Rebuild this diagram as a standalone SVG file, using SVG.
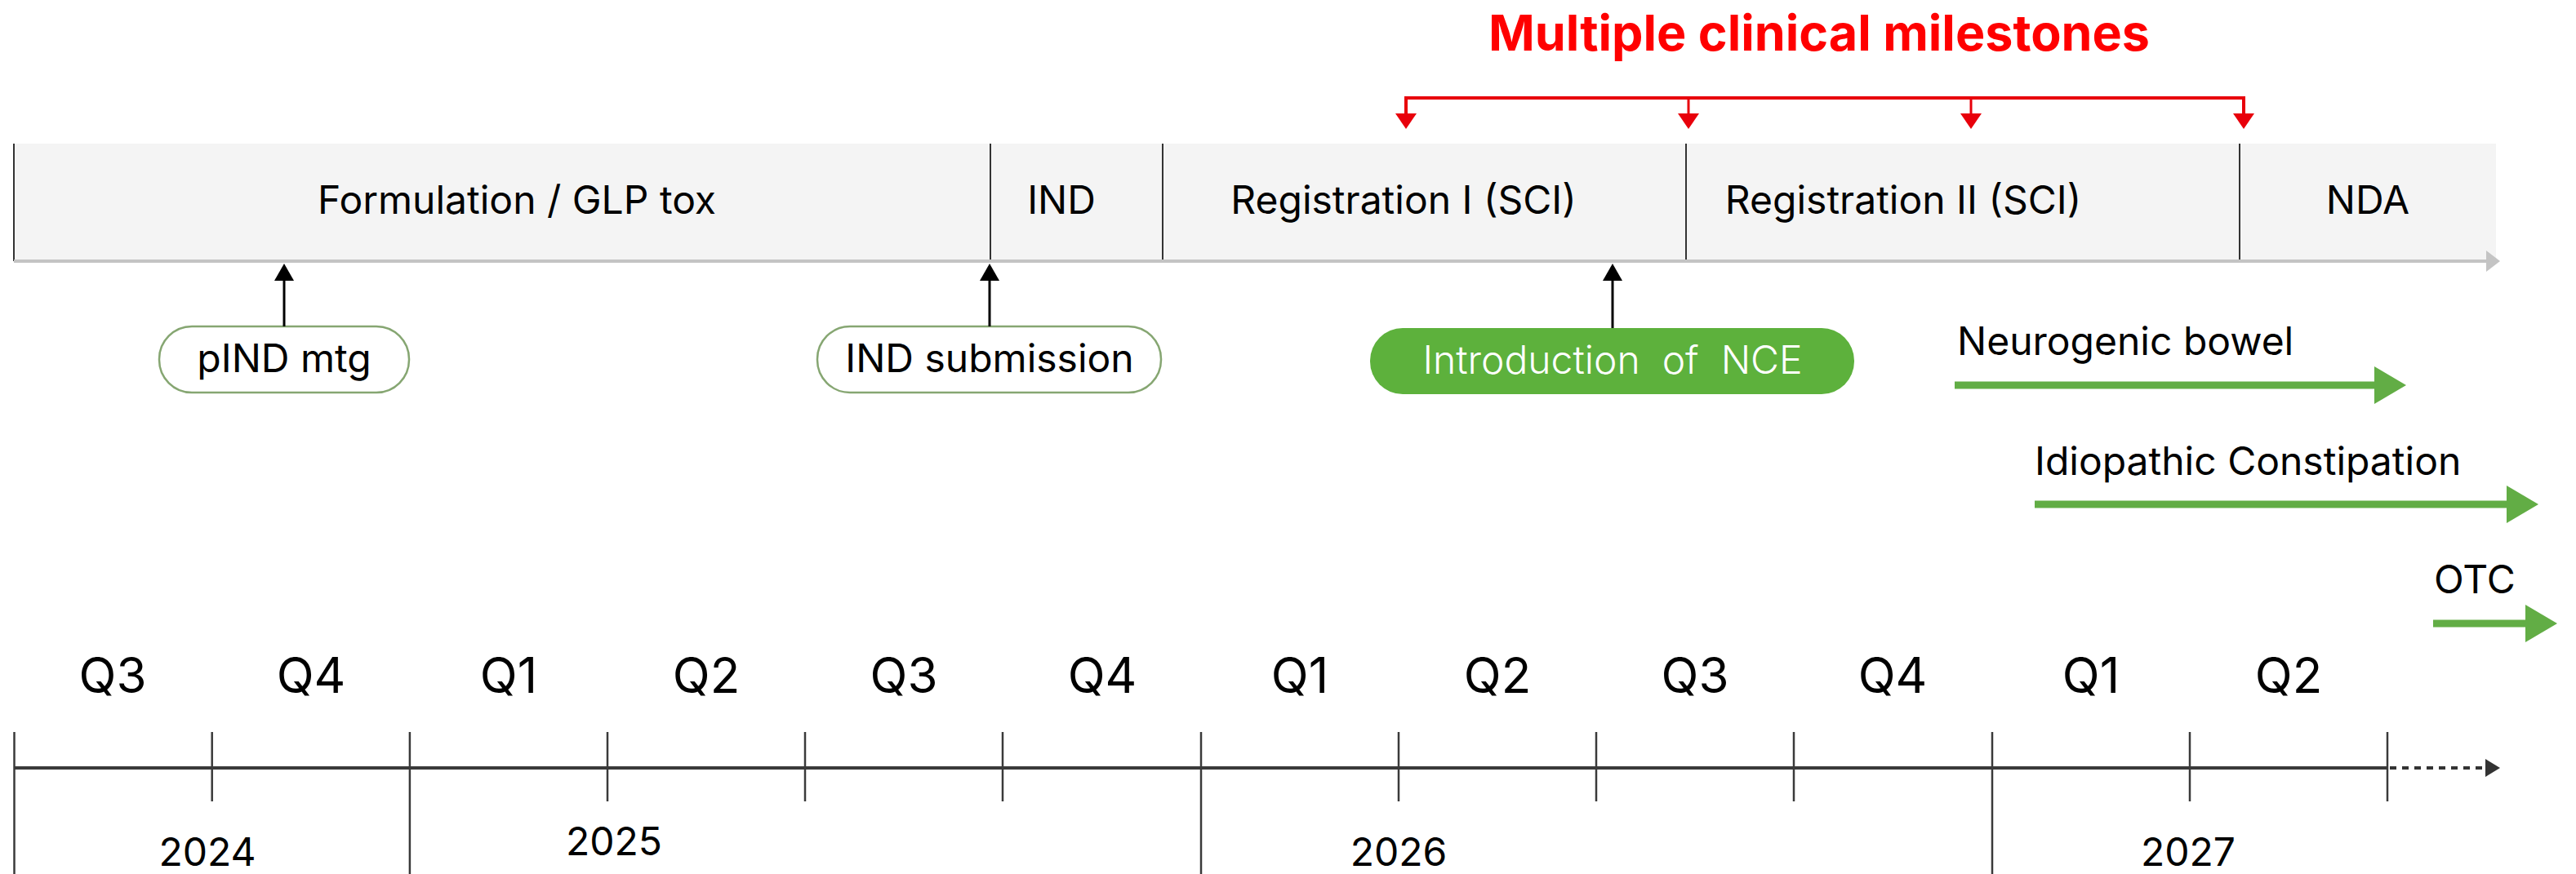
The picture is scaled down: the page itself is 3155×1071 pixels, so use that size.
<svg xmlns="http://www.w3.org/2000/svg" width="3155" height="1071" viewBox="0 0 3155 1071">
<style>
text{font-family:Inter,"Noto Sans","Liberation Sans",sans-serif;fill:#000}
.phase{font-size:48px;text-anchor:middle}
.pill{fill:#fff;stroke:#86a672;stroke-width:2.5}
.pilltxt{font-size:48px;text-anchor:middle}
.q{font-size:60px;text-anchor:middle}
.yr{font-size:48px;text-anchor:middle}
.ind{font-size:48px}
.div{stroke:#333;stroke-width:2}
.tick{stroke:#3a3a3a;stroke-width:2.5}
</style>
<defs>
<marker id="blk" markerUnits="userSpaceOnUse" markerWidth="22" markerHeight="24" refX="0" refY="12" orient="auto"><path d="M0,0 L21,12 L0,24 z" fill="#000"/></marker>
<marker id="red" markerUnits="userSpaceOnUse" markerWidth="20" markerHeight="26" refX="0" refY="13" orient="auto"><path d="M0,0 L19,13 L0,26 z" fill="#e8000b"/></marker>
<marker id="grn" markerUnits="userSpaceOnUse" markerWidth="40" markerHeight="46" refX="0" refY="23" orient="auto"><path d="M0,0 L39,23 L0,46 z" fill="#62ad45"/></marker>
<marker id="gry" markerUnits="userSpaceOnUse" markerWidth="18" markerHeight="26" refX="0" refY="13" orient="auto"><path d="M0,0 L17,13 L0,26 z" fill="#c4c4c4"/></marker>
<marker id="dk" markerUnits="userSpaceOnUse" markerWidth="19" markerHeight="22" refX="0" refY="11" orient="auto"><path d="M0,0 L18,11 L0,22 z" fill="#333"/></marker>
</defs>

<g id="title"><text x="2228" y="62" style="font-size:61px;font-weight:700;fill:#ff0000;text-anchor:middle">Multiple clinical milestones</text></g>

<g id="phasebar">
<rect x="17" y="176" width="3040" height="144" fill="#f4f4f4"/>
<line x1="17" y1="176" x2="17" y2="320" class="div"/>
<line x1="1213" y1="176" x2="1213" y2="320" class="div"/>
<line x1="1424" y1="176" x2="1424" y2="320" class="div"/>
<line x1="2065" y1="176" x2="2065" y2="320" class="div"/>
<line x1="2743" y1="176" x2="2743" y2="320" class="div"/>
</g>
<g id="phase-formulation"><text class="phase" x="633" y="262">Formulation / GLP tox</text></g>
<g id="phase-ind"><text class="phase" x="1300" y="262">IND</text></g>
<g id="phase-reg1"><text class="phase" x="1719" y="262">Registration I (SCI)</text></g>
<g id="phase-reg2"><text class="phase" x="2331" y="262">Registration II (SCI)</text></g>
<g id="phase-nda"><text class="phase" x="2900" y="262">NDA</text></g>

<g id="pind"><rect class="pill" x="195" y="400" width="306" height="81" rx="40"/><text class="pilltxt" x="348" y="456">pIND mtg</text></g>
<g id="indsub"><rect class="pill" x="1001" y="400" width="421" height="81" rx="40"/><text class="pilltxt" x="1212" y="456">IND submission</text></g>
<g id="nce"><rect x="1678" y="402" width="593" height="81" rx="40" fill="#5db13c"/><text class="pilltxt" x="1975" y="458" style="fill:#fff;font-weight:300;white-space:pre" xml:space="preserve">Introduction  of  NCE</text></g>

<g id="ind-neuro"><text class="ind" x="2397" y="435">Neurogenic bowel</text></g>
<g id="ind-idio"><text class="ind" x="2492" y="582">Idiopathic Constipation</text></g>
<g id="ind-otc"><text class="ind" x="2981" y="727">OTC</text></g>

<g id="timeline">
<line x1="17" y1="941" x2="2924" y2="941" stroke="#3a3a3a" stroke-width="4"/>
<line x1="17.5" y1="897" x2="17.5" y2="1071" class="tick"/>
<line x1="259.7" y1="897" x2="259.7" y2="982" class="tick"/>
<line x1="501.9" y1="897" x2="501.9" y2="1071" class="tick"/>
<line x1="744" y1="897" x2="744" y2="982" class="tick"/>
<line x1="986" y1="897" x2="986" y2="982" class="tick"/>
<line x1="1228" y1="897" x2="1228" y2="982" class="tick"/>
<line x1="1471" y1="897" x2="1471" y2="1071" class="tick"/>
<line x1="1713" y1="897" x2="1713" y2="982" class="tick"/>
<line x1="1955" y1="897" x2="1955" y2="982" class="tick"/>
<line x1="2197" y1="897" x2="2197" y2="982" class="tick"/>
<line x1="2440" y1="897" x2="2440" y2="1071" class="tick"/>
<line x1="2682" y1="897" x2="2682" y2="982" class="tick"/>
<line x1="2924" y1="897" x2="2924" y2="982" class="tick"/>
<text class="q" x="138" y="849">Q3</text>
<text class="q" x="381" y="849">Q4</text>
<text class="q" x="623" y="849">Q1</text>
<text class="q" x="865" y="849">Q2</text>
<text class="q" x="1107" y="849">Q3</text>
<text class="q" x="1350" y="849">Q4</text>
<text class="q" x="1592" y="849">Q1</text>
<text class="q" x="1834" y="849">Q2</text>
<text class="q" x="2076" y="849">Q3</text>
<text class="q" x="2318" y="849">Q4</text>
<text class="q" x="2561" y="849">Q1</text>
<text class="q" x="2803" y="849">Q2</text>
<text class="yr" x="254" y="1061">2024</text>
<text class="yr" x="752" y="1048">2025</text>
<text class="yr" x="1713" y="1061">2026</text>
<text class="yr" x="2680" y="1061">2027</text>
</g>

<g id="connectors">
<line x1="17" y1="320" x2="3045" y2="320" stroke="#c4c4c4" stroke-width="4" marker-end="url(#gry)"/>
<polyline points="1722,140 1722,120 2748,120 2748,140" fill="none" stroke="#e8000b" stroke-width="4"/>
<line x1="1722" y1="120" x2="1722" y2="139" stroke="#e8000b" stroke-width="3" marker-end="url(#red)"/>
<line x1="2068" y1="120" x2="2068" y2="139" stroke="#e8000b" stroke-width="3" marker-end="url(#red)"/>
<line x1="2414" y1="120" x2="2414" y2="139" stroke="#e8000b" stroke-width="3" marker-end="url(#red)"/>
<line x1="2748" y1="120" x2="2748" y2="139" stroke="#e8000b" stroke-width="3" marker-end="url(#red)"/>
<line x1="348" y1="400" x2="348" y2="344" stroke="#000" stroke-width="3" marker-end="url(#blk)"/>
<line x1="1212" y1="400" x2="1212" y2="344" stroke="#000" stroke-width="3" marker-end="url(#blk)"/>
<line x1="1975" y1="402" x2="1975" y2="344" stroke="#000" stroke-width="3" marker-end="url(#blk)"/>
<line x1="2394" y1="472" x2="2908" y2="472" stroke="#62ad45" stroke-width="9" marker-end="url(#grn)"/>
<line x1="2492" y1="618" x2="3070" y2="618" stroke="#62ad45" stroke-width="9" marker-end="url(#grn)"/>
<line x1="2980" y1="764" x2="3093" y2="764" stroke="#62ad45" stroke-width="9" marker-end="url(#grn)"/>
<line x1="2927" y1="941" x2="3044" y2="941" stroke="#333" stroke-width="4" stroke-dasharray="8 7" marker-end="url(#dk)"/>
</g>
</svg>
